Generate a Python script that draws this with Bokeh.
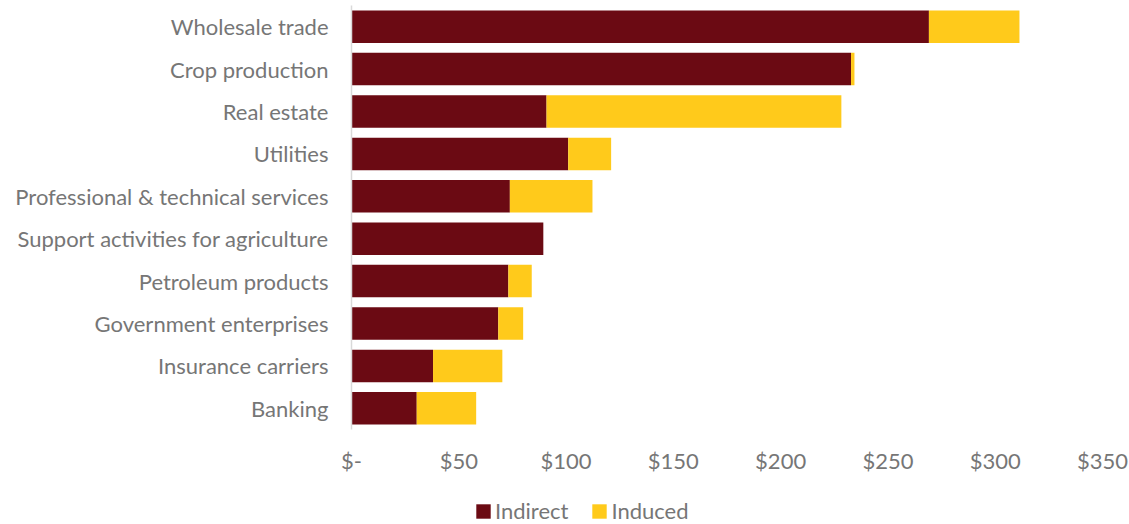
from bokeh.plotting import figure
from bokeh.models import ColumnDataSource, Range1d, FixedTicker, Legend, LegendItem
from bokeh.layouts import column
from bokeh.embed import file_html
from bokeh.resources import INLINE

categories = ["Wholesale trade", "Crop production", "Real estate", "Utilities",
              "Professional & technical services", "Support activities for agriculture",
              "Petroleum products", "Government enterprises", "Insurance carriers", "Banking"]
indirect = [269.1, 232.8, 90.9, 101.0, 73.8, 89.4, 73.1, 68.4, 38.0, 30.4]
induced = [42.2, 1.6, 137.4, 20.0, 38.5, 0.0, 10.9, 11.6, 32.3, 27.7]
series = ["Indirect", "Induced"]
colors = ["#6B0A13", "#FFCA1B"]
x_ticks = [0, 50, 100, 150, 200, 250, 300, 350]
x_tick_labels = ["$-", "$50", "$100", "$150", "$200", "$250", "$300", "$350"]

pos = list(range(len(categories)))
source = ColumnDataSource(dict(pos=pos, Indirect=indirect, Induced=induced))

FONT = "Lato"
GRAY = "#767676"

p = figure(width=1129, height=484, output_backend="svg", toolbar_location=None,
           x_range=Range1d(0, 350), y_range=Range1d(9.5, -0.5),
           min_border_left=351, min_border_right=27, min_border_top=5, min_border_bottom=55)
p.outline_line_color = None
p.background_fill_color = "white"
p.border_fill_color = "white"

p.hbar_stack(series, y="pos", height=0.767, color=colors, line_color=None, source=source)

p.xgrid.visible = False
p.ygrid.visible = False

xa = p.xaxis[0]
xa.ticker = FixedTicker(ticks=x_ticks)
xa.major_label_overrides = {t: l for t, l in zip(x_ticks, x_tick_labels)}
xa.axis_line_color = None
xa.major_tick_line_color = None
xa.minor_tick_line_color = None
xa.major_label_text_font = FONT
xa.major_label_text_font_size = "22px"
xa.major_label_text_color = GRAY
xa.major_label_standoff = 11

ya = p.yaxis[0]
ya.ticker = FixedTicker(ticks=pos)
ya.major_label_overrides = {i: c for i, c in zip(pos, categories)}
ya.axis_line_color = "#D9D9D9"
ya.axis_line_width = 1.5
ya.major_tick_line_color = None
ya.minor_tick_line_color = None
ya.major_label_text_font = FONT
ya.major_label_text_font_size = "22px"
ya.major_label_text_color = GRAY
ya.major_label_standoff = 17

# legend strip below the chart (its bars lie outside its own view; only the legend shows)
p2 = figure(width=1129, height=40, output_backend="svg", toolbar_location=None,
            x_axis_type=None, y_axis_type=None,
            x_range=Range1d(0, 350), y_range=Range1d(100, 101),
            min_border_left=0, min_border_right=0, min_border_top=0, min_border_bottom=0)
p2.outline_line_color = None
p2.xgrid.visible = False
p2.ygrid.visible = False
legend_renderers = p2.hbar_stack(series, y="pos", height=0.767, color=colors, line_color=None, source=source)
legend = Legend(items=[LegendItem(label=s, renderers=[r]) for s, r in zip(series, legend_renderers)],
                orientation="horizontal", location=(123, 0),
                glyph_width=18, glyph_height=18, label_standoff=3, spacing=22,
                padding=0, margin=0, border_line_color=None, background_fill_alpha=0,
                label_text_font=FONT, label_text_font_size="22px", label_text_color=GRAY)
p2.add_layout(legend, "center")

layout = column(p, p2, spacing=0)
open("out.html", "w").write(file_html(layout, INLINE))
